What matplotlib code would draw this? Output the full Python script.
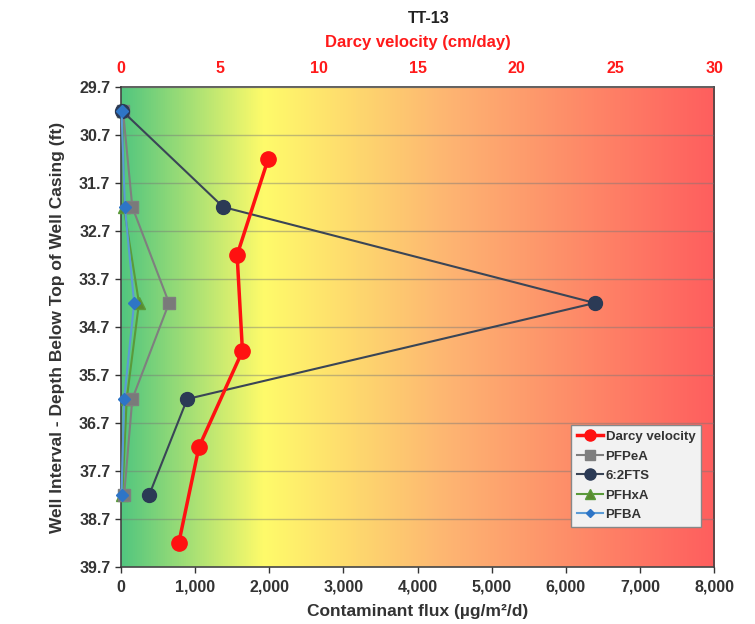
import numpy as np
import matplotlib
matplotlib.use("Agg")
import matplotlib.pyplot as plt
from matplotlib.colors import LinearSegmentedColormap
from matplotlib.lines import Line2D

plt.rcParams["font.family"] = ["Liberation Sans", "DejaVu Sans"]
plt.rcParams["font.weight"] = "bold"

# ── data ──────────────────────────────────────────────
darcy_depth = [31.2, 33.2, 35.2, 37.2, 39.2]
darcy_vel = [7.45, 5.88, 6.15, 3.95, 2.93]          # cm/day

flux_depth = [30.2, 32.2, 34.2, 36.2, 38.2]
pfpea = [30, 155, 650, 155, 45]
fts62 = [20, 1380, 6390, 895, 382]
pfhxa = [25, 40, 245, 80, 20]
pfba = [10, 55, 180, 45, 10]

y_ticks = [29.7, 30.7, 31.7, 32.7, 33.7, 34.7, 35.7, 36.7, 37.7, 38.7, 39.7]
x_ticks = [0, 1000, 2000, 3000, 4000, 5000, 6000, 7000, 8000]
top_ticks = [0, 5, 10, 15, 20, 25, 30]

# ── figure ────────────────────────────────────────────
fig = plt.figure(figsize=(7.55, 6.24), dpi=100)
ax = fig.add_axes([0.160, 0.0913, 0.786, 0.7693])

cmap = LinearSegmentedColormap.from_list(
    "bg", [(0.0, "#52C67F"), (0.24, "#FFFB6A"), (0.55, "#FDB572"), (1.0, "#FF5E5E")]
)
grad = np.linspace(0, 1, 512).reshape(1, -1)
ax.imshow(grad, cmap=cmap, aspect="auto", extent=[0, 8000, 39.7, 29.7], zorder=0)

ax.set_xlim(0, 8000)
ax.set_ylim(39.7, 29.7)
ax.set_yticks(y_ticks)
ax.set_xticks(x_ticks)
ax.set_xticklabels([f"{v:,}" for v in x_ticks])
ax.tick_params(axis="both", labelsize=11.5, colors="#333333", length=4, width=1)
ax.tick_params(axis="x", pad=5)
for t in ax.get_xticklabels() + ax.get_yticklabels():
    t.set_fontweight("bold")
ax.grid(axis="y", color="#777777", alpha=0.45, linewidth=1, zorder=1)
ax.set_axisbelow(False)
for s in ax.spines.values():
    s.set_color("#444444")
    s.set_linewidth(1.2)

ax.plot(pfhxa, flux_depth, color="#5A9A3A", marker="^", markersize=8,
        markerfacecolor="#5A8A30", lw=1.5, zorder=3, clip_on=False)
ax.plot(pfpea, flux_depth, color="#7F7F7F", marker="s", markersize=8,
        markerfacecolor="#7A7A7A", lw=1.5, zorder=3, clip_on=False)
ax.plot(fts62, flux_depth, color="#3A4556", marker="o", markersize=10,
        markerfacecolor="#2B3A55", markeredgecolor="#2B3A55", lw=1.5, zorder=4,
        clip_on=False)
ax.plot(pfba, flux_depth, color="#5B9BD5", marker="D", markersize=6,
        markerfacecolor="#2E75C6", markeredgecolor="#2E75C6", lw=1.5, zorder=4.5,
        clip_on=False)

ax.set_xlabel("Contaminant flux (µg/m²/d)", fontsize=12.5, fontweight="bold",
              color="#333333", labelpad=7)
ax.set_ylabel("Well Interval - Depth Below Top of Well Casing (ft)", fontsize=12.5,
              fontweight="bold", color="#333333", labelpad=10)

# Darcy velocity on top axis
ax2 = ax.twiny()
ax2.set_xlim(0, 30)
ax2.set_xticks(top_ticks)
ax2.tick_params(axis="x", labelsize=11.5, labelcolor="#FF1A1A", length=0, pad=8)
for t in ax2.get_xticklabels():
    t.set_fontweight("bold")
ax2.plot(darcy_vel, darcy_depth, color="#FF1111", marker="o", markersize=11,
         lw=2.5, zorder=5)
ax2.set_xlabel("Darcy velocity (cm/day)", fontsize=12, fontweight="bold",
               color="#FF1A1A", labelpad=10)
for s in ax2.spines.values():
    s.set_visible(False)

fig.text(0.568, 0.971, "TT-13", ha="center", va="center", fontsize=11.5,
         fontweight="bold", color="#222222")

handles = [
    Line2D([], [], color="#FF1111", marker="o", markersize=8, lw=2.5),
    Line2D([], [], color="#7F7F7F", marker="s", markersize=7, lw=1.5),
    Line2D([], [], color="#3A4556", marker="o", markerfacecolor="#2B3A55",
           markeredgecolor="#2B3A55", markersize=8, lw=1.5),
    Line2D([], [], color="#5A9A3A", marker="^", markerfacecolor="#5A8A30",
           markersize=7, lw=1.5),
    Line2D([], [], color="#5B9BD5", marker="D", markerfacecolor="#2E75C6",
           markeredgecolor="#2E75C6", markersize=4, lw=1.5),
]
labels = ["Darcy velocity", "PFPeA", "6:2FTS", "PFHxA", "PFBA"]
leg = ax2.legend(handles, labels, loc="upper left", bbox_to_anchor=(0.758, 0.296),
                 frameon=True, fancybox=False, handlelength=2.0,
                 handletextpad=0.2, borderpad=0.45, labelspacing=0.55,
                 borderaxespad=0, prop={"weight": "bold", "size": 9.5})
leg.get_frame().set_facecolor("#F2F2F2")
leg.get_frame().set_edgecolor("#888888")
leg.get_frame().set_alpha(1)
for t in leg.get_texts():
    t.set_color("#333333")

fig.savefig("out.png", dpi=100)
